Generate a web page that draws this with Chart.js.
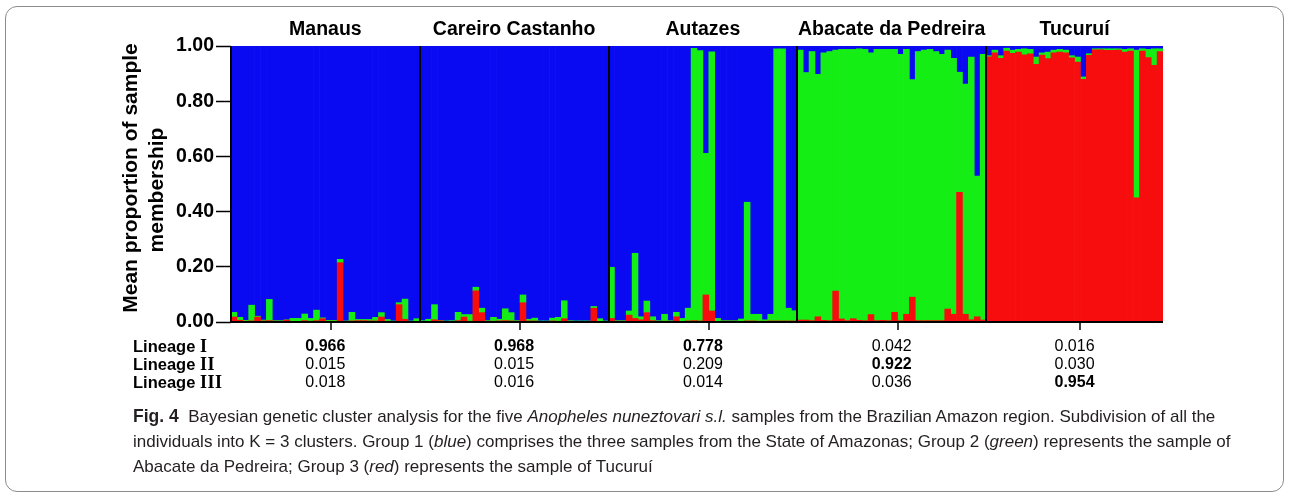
<!DOCTYPE html>
<html>
<head>
<meta charset="utf-8">
<script src="https://cdn.jsdelivr.net/npm/chart.js@4.4.0/dist/chart.umd.min.js"></script>
<style>
  html, body { margin: 0; padding: 0; background: #fff; }
  #wrap { position: relative; width: 1290px; height: 501px; overflow: hidden; }
  #frame { position: absolute; left: 5px; top: 6px; width: 1277px; height: 484px; border: 1px solid #8c8c8c; border-radius: 12px; }
  #chart { position: absolute; left: 0; top: 0; }
  #caption { position: absolute; left: 133px; top: 404px; font: 17px "Liberation Sans", Arial, sans-serif; line-height: 25px; color: #231f20; white-space: nowrap; }
  #caption b { font-size: 17.5px; }
</style>
</head>
<body>
<div id="wrap">
  <div id="frame"></div>
  <canvas id="chart" width="1290" height="501"></canvas>
  <div id="caption"><b>Fig. 4</b>&nbsp; Bayesian genetic cluster analysis for the five <i>Anopheles nuneztovari s.l.</i> samples from the Brazilian Amazon region. Subdivision of all the<br>individuals into K = 3 clusters. Group 1 (<i>blue</i>) comprises the three samples from the State of Amazonas; Group 2 (<i>green</i>) represents the sample of<br>Abacate da Pedreira; Group 3 (<i>red</i>) represents the sample of Tucuruí</div>
</div>
<script>
  //-------------------------------------
  // populations and summary table
  var groups = ['Manaus', 'Careiro Castanho', 'Autazes', 'Abacate da Pedreira', 'Tucuruí'];
  var lineageNames = ['Lineage', 'Lineage', 'Lineage'];
  var lineageRoman = ['I', 'II', 'III'];
  var lineageI   = ['0.966', '0.968', '0.778', '0.042', '0.016'];
  var lineageII  = ['0.015', '0.015', '0.209', '0.922', '0.030'];
  var lineageIII = ['0.018', '0.016', '0.014', '0.036', '0.954'];
  var yTicks = [0, 0.2, 0.4, 0.6, 0.8, 1.0];

  // membership per individual
  // (the third cluster of each bar is whatever is left up to 1.0)
  var manausRed   = [0.018,0.006,0.003,0.004,0.018,0.004,0.005,0.003,0.003,0.007,0.002,0.002,0.005,0.003,0.005,0.012,0.003,0.003,0.215,0.002,0.004,0.005,0.005,0.004,0.004,0.018,0.003,0.002,0.063,0.010,0.002,0.002];
  var manausGreen = [0.017,0.011,0.003,0.057,0.003,0.003,0.077,0.002,0.002,0.001,0.011,0.011,0.024,0.010,0.038,0.003,0.003,0.003,0.012,0.002,0.031,0.004,0.004,0.005,0.013,0.016,0.006,0.002,0.007,0.073,0.002,0.010];

  var careiroRed   = [0.002,0.002,0.008,0.005,0.002,0.002,0.005,0.018,0.003,0.113,0.034,0.003,0.003,0.004,0.005,0.004,0.003,0.070,0.004,0.004,0.002,0.002,0.004,0.003,0.012,0.003,0.002,0.002,0.002,0.050,0.002,0.002];
  var careiroGreen = [0.003,0.008,0.055,0.001,0.002,0.003,0.030,0.009,0.024,0.013,0.016,0.002,0.014,0.006,0.043,0.030,0.002,0.028,0.006,0.010,0.002,0.002,0.010,0.014,0.065,0.002,0.002,0.002,0.002,0.006,0.010,0.002];

  var autazesRed   = [0.013,0.003,0.003,0.025,0.013,0.008,0.034,0.005,0.003,0.003,0.003,0.019,0.002,0.004,0.005,0.004,0.098,0.040,0.002,0.003,0.003,0.003,0.002,0.004,0.004,0.003,0.003,0.004,0.004,0.004,0.004,0.004];
  var autazesGreen = [0.185,0.002,0.002,0.015,0.236,0.011,0.042,0.014,0.002,0.025,0.002,0.016,0.011,0.046,0.987,0.979,0.513,0.939,0.011,0.002,0.002,0.002,0.009,0.430,0.024,0.025,0.005,0.024,0.986,0.986,0.046,0.037];

  var abacateRed  = [0.007,0.007,0.005,0.019,0.006,0.005,0.112,0.011,0.005,0.012,0.006,0.005,0.027,0.005,0.006,0.005,0.035,0.005,0.028,0.090,0.005,0.005,0.005,0.005,0.005,0.047,0.028,0.470,0.028,0.008,0.019,0.007];
  var abacateBlue = [0.015,0.096,0.020,0.103,0.025,0.020,0.015,0.012,0.012,0.012,0.010,0.012,0.025,0.012,0.012,0.012,0.012,0.030,0.012,0.122,0.020,0.015,0.012,0.020,0.030,0.015,0.045,0.095,0.138,0.040,0.471,0.030];

  var tucuruiGreen = [0.004,0.010,0.010,0.010,0.012,0.010,0.022,0.016,0.026,0.008,0.024,0.010,0.010,0.010,0.008,0.018,0.009,0.006,0.004,0.004,0.006,0.006,0.005,0.010,0.008,0.535,0.008,0.030,0.060,0.010];
  var tucuruiBlue  = [0.035,0.015,0.035,0.008,0.015,0.012,0.010,0.012,0.040,0.025,0.022,0.015,0.012,0.015,0.035,0.040,0.112,0.028,0.010,0.010,0.010,0.010,0.010,0.012,0.010,0.015,0.010,0.012,0.010,0.010];
  //-------------------------------------

  var FONT = '"Liberation Sans", Arial, sans-serif';
  var SERIF = '"Liberation Serif", "Times New Roman", serif';

  function rest(a, b) {
    return a.map(function(v, i) { return +(1 - v - b[i]).toFixed(3); });
  }

  var red = [], green = [], blue = [], labels = [], sizes = [];
  function addGroup(r, g, b) {
    sizes.push(r.length);
    for (var i = 0; i < r.length; i++) {
      red.push(r[i]); green.push(g[i]); blue.push(b[i]);
      labels.push(labels.length + 1);
    }
  }
  addGroup(manausRed, manausGreen, rest(manausRed, manausGreen));
  addGroup(careiroRed, careiroGreen, rest(careiroRed, careiroGreen));
  addGroup(autazesRed, autazesGreen, rest(autazesRed, autazesGreen));
  addGroup(abacateRed, rest(abacateRed, abacateBlue), abacateBlue);
  addGroup(rest(tucuruiGreen, tucuruiBlue), tucuruiGreen, tucuruiBlue);

  var extras = {
    id: 'extras',
    afterDraw: function(chart) {
      var ctx = chart.ctx, xs = chart.scales.x, area = chart.chartArea;
      var w = (area.right - area.left) / labels.length;
      var starts = [], s = 0;
      sizes.forEach(function(k) { starts.push(s); s += k; });
      function edge(i) { return i >= labels.length ? area.right : xs.getPixelForValue(i) - w / 2; }
      function line(x1, y1, x2, y2) { ctx.beginPath(); ctx.moveTo(x1, y1); ctx.lineTo(x2, y2); ctx.stroke(); }

      ctx.save();
      ctx.strokeStyle = '#000';

      // population separators
      ctx.lineWidth = 2;
      for (var g = 1; g < sizes.length; g++) {
        var xe = Math.round(edge(starts[g]));
        line(xe, area.top, xe, area.bottom);
      }
      // axis lines
      line(area.left, area.top, area.left, area.bottom + 1);
      line(area.left, area.bottom, area.right, area.bottom);

      // small ticks under each population
      ctx.lineWidth = 1.5;
      sizes.forEach(function(k, g) {
        var xt = Math.round(edge(starts[g] + Math.floor(k / 2) + 1));
        line(xt, area.bottom, xt, area.bottom + 8);
      });

      // population names and table values
      ctx.fillStyle = '#000';
      ctx.textAlign = 'center';
      ctx.textBaseline = 'middle';
      var rows = [lineageI, lineageII, lineageIII];
      sizes.forEach(function(k, g) {
        var cx = (edge(starts[g]) + edge(starts[g] + k)) / 2;
        ctx.font = 'bold 19.5px ' + FONT;
        ctx.fillText(groups[g], cx, 30);
        var best = 0;
        rows.forEach(function(r, j) { if (+r[g] > +rows[best][g]) best = j; });
        rows.forEach(function(r, j) {
          ctx.font = (j === best ? 'bold ' : '') + '16px ' + FONT;
          ctx.fillText(r[g], cx, 347 + j * 18);
        });
      });

      // row labels, roman numerals in a serif face
      ctx.textAlign = 'left';
      lineageNames.forEach(function(name, j) {
        var y = 347 + j * 18;
        ctx.font = 'bold 16.5px ' + FONT;
        ctx.fillText(name, 133, y);
        var x0 = 133 + ctx.measureText(name + ' ').width;
        ctx.font = 'bold 18px ' + SERIF;
        for (var c = 0; c < lineageRoman[j].length; c++) {
          ctx.fillText(lineageRoman[j][c], x0 + c * 7.5, y);
        }
      });

      // y axis title, two lines
      ctx.textAlign = 'center';
      ctx.font = 'bold 21px ' + FONT;
      ctx.save();
      ctx.translate(131, 178);
      ctx.rotate(-Math.PI / 2);
      ctx.fillText('Mean proportion of sample', 0, 0);
      ctx.restore();
      ctx.save();
      ctx.translate(157, 190);
      ctx.rotate(-Math.PI / 2);
      ctx.fillText('membership', 0, 0);
      ctx.restore();

      ctx.restore();
    }
  };

  var ctx = document.getElementById('chart').getContext('2d');
  var chart = new Chart(ctx, {
    type: 'bar',
    data: {
      labels: labels,
      datasets: [
        { label: 'Lineage III', data: red,   backgroundColor: '#f70d0d' },
        { label: 'Lineage II',  data: green, backgroundColor: '#14ee14' },
        { label: 'Lineage I',   data: blue,  backgroundColor: '#0a0af2' }
      ]
    },
    options: {
      responsive: false,
      animation: false,
      barPercentage: 1,
      categoryPercentage: 1,
      borderWidth: 0,
      layout: { padding: { left: 0, right: 127, top: 46, bottom: 0 } },
      plugins: { legend: { display: false }, tooltip: { enabled: false } },
      scales: {
        x: {
          stacked: true,
          ticks: { display: false },
          grid: { display: false },
          border: { display: false },
          afterFit: function(scale) { scale.height = 179; }
        },
        y: {
          stacked: true,
          min: 0,
          max: 1,
          afterBuildTicks: function(scale) {
            scale.ticks = yTicks.map(function(v) { return { value: v }; });
          },
          ticks: {
            color: '#000',
            padding: 2,
            font: { family: FONT, size: 19.5, weight: 'bold' },
            callback: function(v) { return (+v).toFixed(2); }
          },
          grid: { drawOnChartArea: false, drawTicks: true, tickLength: 15, tickColor: '#000', tickWidth: 1.5 },
          border: { display: false },
          afterFit: function(scale) { scale.width = 231; }
        }
      }
    },
    plugins: [extras]
  });
</script>
</body>
</html>
